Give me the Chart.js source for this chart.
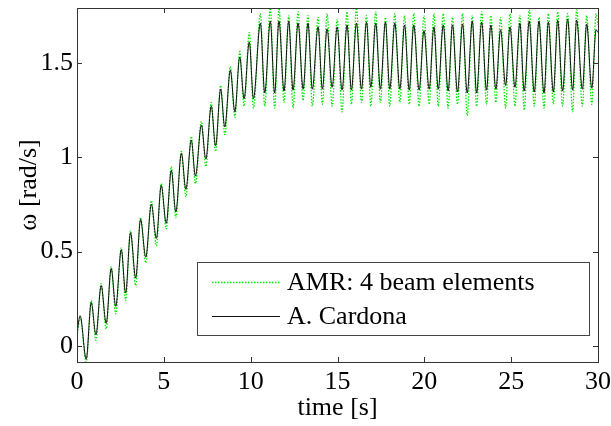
<!DOCTYPE html>
<html>
<head>
<meta charset="utf-8">
<script src="https://cdn.jsdelivr.net/npm/chart.js@4"></script>
<style>
  html, body { margin: 0; padding: 0; background: #fff; }
  #wrap { width: 611px; height: 426px; }
</style>
</head>
<body>
<div id="wrap"><canvas id="chart" width="611" height="426"></canvas></div>
<script>
// time samples [s] at the peaks/troughs
const time = [
  0.00, 0.18, 0.53, 0.82, 1.09, 1.39, 1.68, 1.97, 2.23, 2.55, 2.80, 3.08, 3.38, 3.66, 3.96,
  4.28, 4.57, 4.85, 5.14, 5.43, 5.69, 6.01, 6.27, 6.58, 6.82, 7.16, 7.42, 7.73, 7.98, 8.27,
  8.51, 8.83, 9.09, 9.37, 9.62, 9.92, 10.16,
  10.56, 10.81, 11.13, 11.38, 11.63, 11.92, 12.19, 12.44, 12.73, 13.02, 13.30, 13.55, 13.88, 14.13,
  14.40, 14.69, 14.98, 15.26, 15.55, 15.80, 16.09, 16.38, 16.67, 16.92, 17.20, 17.47, 17.76, 18.01,
  18.30, 18.59, 18.86, 19.13, 19.39, 19.70, 19.98, 20.28, 20.55, 20.80, 21.09, 21.37, 21.62, 21.91,
  22.20, 22.47, 22.76, 23.01, 23.30, 23.58, 23.83, 24.12, 24.39, 24.68, 24.93, 25.22, 25.50, 25.75,
  26.04, 26.33, 26.60, 26.89, 27.14, 27.43, 27.68, 27.96, 28.25, 28.54, 28.77, 29.10, 29.35, 29.64,
  29.89, 30.00
];

// AMR: 4 beam elements (green, dotted)
const omegaAMR = [
  0.05, 0.15, -0.085, 0.24, 0.03, 0.33, 0.09, 0.42, 0.17, 0.52, 0.24, 0.61, 0.32, 0.68, 0.44,
  0.77, 0.53, 0.86, 0.62, 0.95, 0.68, 1.03, 0.79, 1.11, 0.86, 1.19, 0.95, 1.29, 1.03, 1.38,
  1.12, 1.48, 1.21, 1.56, 1.27, 1.66, 1.26,
  1.76, 1.27, 1.79, 1.26, 1.79, 1.29, 1.75, 1.26, 1.77, 1.30, 1.75, 1.27, 1.74, 1.28,
  1.76, 1.27, 1.73, 1.24, 1.77, 1.28, 1.79, 1.29, 1.75, 1.27, 1.77, 1.29, 1.74, 1.27,
  1.76, 1.29, 1.75, 1.28, 1.76, 1.27, 1.75, 1.28, 1.76, 1.27, 1.76, 1.26, 1.74, 1.28,
  1.76, 1.22, 1.75, 1.27, 1.77, 1.28, 1.75, 1.29, 1.74, 1.26, 1.76, 1.27, 1.75, 1.25,
  1.78, 1.27, 1.74, 1.26, 1.76, 1.28, 1.77, 1.27, 1.76, 1.24, 1.78, 1.27, 1.75, 1.28,
  1.76, 1.70
];

// A. Cardona (black, solid)
const omegaCardona = [
  0.07, 0.16, -0.07, 0.23, 0.06, 0.32, 0.12, 0.41, 0.21, 0.51, 0.28, 0.60, 0.36, 0.67, 0.47,
  0.75, 0.57, 0.85, 0.65, 0.93, 0.71, 1.02, 0.83, 1.09, 0.90, 1.17, 0.99, 1.27, 1.06, 1.36,
  1.16, 1.46, 1.24, 1.53, 1.31, 1.61, 1.31,
  1.71, 1.34, 1.72, 1.34, 1.72, 1.35, 1.72, 1.355, 1.71, 1.36, 1.71, 1.36, 1.69, 1.36,
  1.68, 1.37, 1.69, 1.355, 1.70, 1.355, 1.71, 1.36, 1.715, 1.37, 1.71, 1.36, 1.715, 1.36,
  1.71, 1.36, 1.70, 1.355, 1.70, 1.355, 1.67, 1.36, 1.69, 1.36, 1.70, 1.35, 1.70, 1.345,
  1.705, 1.34, 1.72, 1.34, 1.715, 1.355, 1.70, 1.36, 1.675, 1.38, 1.69, 1.37, 1.71, 1.35,
  1.72, 1.345, 1.72, 1.34, 1.715, 1.345, 1.725, 1.35, 1.73, 1.355, 1.725, 1.36, 1.705, 1.365,
  1.675, 1.66
];

const xTicks = [0, 5, 10, 15, 20, 25, 30];
const yTicks = [0, 0.5, 1, 1.5];
const seriesNames = ["AMR: 4 beam elements", "A. Cardona"];

const SERIF = "'Liberation Serif', 'Times New Roman', serif";
const GREEN = "#00e600";
const FRAME = "#333";
const FS = 26;

const pts = (ys) => time.map((t, i) => ({ x: t, y: ys[i] }));

// box, inward ticks on all four sides, legend inside the axes
const axesDecor = {
  id: "axesDecor",
  afterDatasetsDraw(chart) {
    const { ctx, chartArea: a, scales: { x, y } } = chart;
    const tl = 5;
    ctx.save();
    ctx.strokeStyle = FRAME;
    ctx.lineWidth = 1;
    ctx.beginPath();
    xTicks.forEach(v => {
      const px = Math.round(x.getPixelForValue(v)) + 0.5;
      ctx.moveTo(px, a.bottom); ctx.lineTo(px, a.bottom - tl);
      ctx.moveTo(px, a.top); ctx.lineTo(px, a.top + tl);
    });
    yTicks.forEach(v => {
      const py = Math.round(y.getPixelForValue(v)) + 0.5;
      ctx.moveTo(a.left, py); ctx.lineTo(a.left + tl, py);
      ctx.moveTo(a.right, py); ctx.lineTo(a.right - tl, py);
    });
    ctx.stroke();
    ctx.strokeRect(Math.round(a.left) + 0.5, Math.round(a.top) + 0.5,
                   Math.round(a.right - a.left), Math.round(a.bottom - a.top));
    ctx.restore();
  },
  afterDraw(chart) {
    const { ctx } = chart;
    const bx = 197.5, by = 262.5, bw = 392, bh = 73;
    ctx.save();
    ctx.fillStyle = "#fff";
    ctx.fillRect(bx, by, bw, bh);
    ctx.strokeStyle = "#444";
    ctx.lineWidth = 1;
    ctx.strokeRect(bx, by, bw, bh);

    const rows = [
      { y: 282.5, color: GREEN, dash: [1.5, 1.5], width: 1.3 },
      { y: 316.5, color: "#111", dash: [], width: 1 }
    ];
    rows.forEach((r, i) => {
      ctx.beginPath();
      ctx.setLineDash(r.dash);
      ctx.strokeStyle = r.color;
      ctx.lineWidth = r.width;
      ctx.moveTo(212, r.y); ctx.lineTo(280, r.y);
      ctx.stroke();
      ctx.setLineDash([]);
      ctx.fillStyle = "#000";
      ctx.font = FS + "px " + SERIF;
      ctx.textBaseline = "middle";
      ctx.textAlign = "left";
      ctx.fillText(seriesNames[i], 287, r.y + 1);
    });
    ctx.restore();
  }
};

new Chart(document.getElementById("chart"), {
  type: "line",
  data: {
    datasets: [
      {
        label: seriesNames[0],
        data: pts(omegaAMR),
        borderColor: GREEN,
        borderWidth: 1.3,
        borderDash: [1.5, 1.5],
        pointRadius: 0,
        cubicInterpolationMode: "monotone",
        order: 2
      },
      {
        label: seriesNames[1],
        data: pts(omegaCardona),
        borderColor: "#111",
        borderWidth: 1,
        pointRadius: 0,
        cubicInterpolationMode: "monotone",
        order: 1
      }
    ]
  },
  options: {
    responsive: false,
    animation: false,
    events: [],
    layout: { padding: { left: 0, right: 13, top: 8, bottom: 0 } },
    plugins: { legend: { display: false }, tooltip: { enabled: false } },
    scales: {
      x: {
        type: "linear",
        min: 0, max: 30,
        grid: { display: false, drawTicks: false },
        border: { display: false },
        afterBuildTicks: s => { s.ticks = xTicks.map(v => ({ value: v })); },
        afterFit: s => { s.height = 64; s.paddingLeft = 0; s.paddingRight = 0; },
        ticks: { color: "#000", padding: 5, maxRotation: 0, font: { family: SERIF, size: FS } },
        title: { display: true, text: "time [s]", color: "#000", padding: { bottom: 5 },
                 font: { family: SERIF, size: FS, lineHeight: 1 } }
      },
      y: {
        min: -0.085, max: 1.79,
        grid: { display: false, drawTicks: false },
        border: { display: false },
        afterBuildTicks: s => { s.ticks = yTicks.map(v => ({ value: v })); },
        afterFit: s => { s.width = 77; s.paddingTop = 0; s.paddingBottom = 0; },
        ticks: { color: "#000", padding: 4, font: { family: SERIF, size: FS },
                 callback: v => String(v) },
        title: { display: true, text: "ω [rad/s]", color: "#000", padding: { top: 16 },
                 font: { family: SERIF, size: FS, lineHeight: 1 } }
      }
    }
  },
  plugins: [axesDecor]
});
</script>
</body>
</html>
